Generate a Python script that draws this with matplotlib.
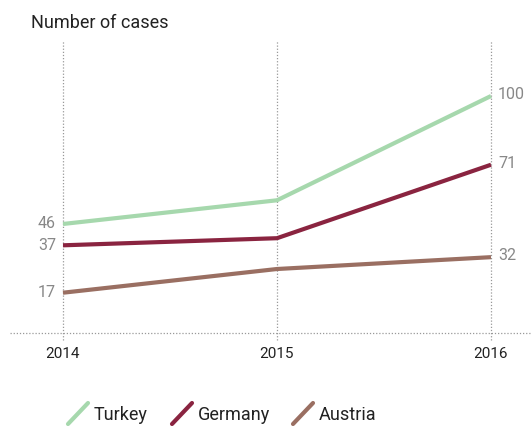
import matplotlib.pyplot as plt
from matplotlib.lines import Line2D

# ── Data ────────────────────────────────────────────────────────────────
years = [2014, 2015, 2016]
countries = ['Turkey', 'Germany', 'Austria']
turkey = [46, 56, 100]
germany = [37, 40, 71]
austria = [17, 27, 32]
series = [turkey, germany, austria]
colors = ['#a6d8ad', '#8a2440', '#9a6f62']

plt.rcParams['font.family'] = ['Roboto', 'DejaVu Sans']

fig = plt.figure(figsize=(5.31, 4.26), dpi=100)
W, H = 531, 426
ax = fig.add_axes([10 / W, (H - 333) / H, 521 / W, 293 / H])

ax.set_xlim(2014 - 53 / 214, 2016 + 40 / 214)
ax.set_ylim(0, 293 / 2.37)

for vals, c in zip(series, colors):
    ax.plot(years, vals, color=c, linewidth=3, solid_capstyle='butt', zorder=3)

# dotted guides
for yr in years:
    ax.axvline(yr, ymin=-0.025, ymax=1, color='#999999', linestyle=(0, (1, 1.5)),
               linewidth=0.9, clip_on=False, zorder=1)
ax.axhline(0, color='#999999', linestyle=(0, (1, 1.5)), linewidth=0.9,
           clip_on=False, zorder=1)

# value labels
for vals in series:
    ax.annotate(str(vals[0]), (years[0], vals[0]), xytext=(-5, 0), textcoords='offset points',
                ha='right', va='center', fontsize=11.5, color='#888888')
    ax.annotate(str(vals[-1]), (years[-1], vals[-1]), xytext=(5, 1), textcoords='offset points',
                ha='left', va='center', fontsize=11.5, color='#888888')

for s in ax.spines.values():
    s.set_visible(False)
ax.set_yticks([])
ax.set_xticks(years)
ax.set_xticklabels([str(y) for y in years], fontsize=11, color='#222222')
ax.tick_params(axis='x', length=0, pad=10)

fig.text(31 / W, 1 - 23 / H, 'Number of cases', fontsize=13, color='#222222',
         ha='left', va='center')

# legend with diagonal strokes
leg_x = [68, 172, 293]
for x0, name, c in zip(leg_x, countries, colors):
    fig.add_artist(Line2D([x0 / W, (x0 + 20) / W], [1 - 424 / H, 1 - 403 / H],
                          color=c, linewidth=3, solid_capstyle='round'))
    fig.text((x0 + 26) / W, 1 - 415 / H, name, fontsize=13, color='#222222',
             ha='left', va='center')

fig.savefig('out.png', dpi=100, facecolor='white')
